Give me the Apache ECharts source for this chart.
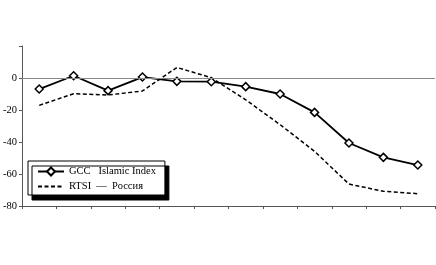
<!DOCTYPE html>
<html>
<head>
<meta charset="utf-8">
<script src="https://cdn.jsdelivr.net/npm/echarts@6/dist/echarts.min.js"></script>
<style>html,body{margin:0;padding:0;background:#fff}#c{width:436px;height:265px}</style>
</head>
<body>
<div id="c"></div>
<script>
const categories = ['1','2','3','4','5','6','7','8','9','10','11','12'];
const gccValues = [-6.9, 1.4, -7.9, 0.6, -2.1, -2.3, -5.4, -10.0, -21.5, -40.6, -49.6, -54.4];
const rtsiValues = [-17.1, -9.8, -10.6, -8.1, 6.6, 0.2, -13.6, -29.2, -45.8, -66.3, -70.8, -72.3];
const yTicks = [-80, -60, -40, -20, 0, 20];
const seriesNames = ['GCC   Islamic Index', 'RTSI  —  Россия'];

const chart = echarts.init(document.getElementById('c'), null, {renderer: 'canvas'});
const font = 'Liberation Serif';
chart.setOption({
  animation: false,
  backgroundColor: '#fff',
  textStyle: {fontFamily: font},
  grid: {left: 22, right: 1, top: 46, bottom: 59, containLabel: false},
  legend: {
    orient: 'vertical',
    left: 28, top: 161,
    padding: [5, 9, 3, 9],
    itemGap: 4,
    itemWidth: 26,
    itemHeight: 10,
    backgroundColor: '#fff',
    borderColor: '#000',
    borderWidth: 1,
    shadowColor: '#000',
    shadowBlur: 0,
    shadowOffsetX: 4,
    shadowOffsetY: 5,
    textStyle: {fontFamily: font, fontSize: 10.5, color: '#000'},
    data: [
      {name: seriesNames[0]},
      {name: seriesNames[1], itemStyle: {opacity: 0}}
    ]
  },
  xAxis: {
    type: 'category',
    data: categories,
    boundaryGap: true,
    axisLine: {show: true, onZero: false, lineStyle: {color: '#555', width: 1}},
    axisTick: {show: true, length: 3, inside: false, lineStyle: {color: '#555'}},
    axisLabel: {show: false},
    splitLine: {show: false}
  },
  yAxis: {
    type: 'value',
    min: yTicks[0], max: yTicks[yTicks.length - 1], interval: 20,
    axisLine: {show: true, lineStyle: {color: '#555', width: 1}},
    axisTick: {show: true, length: 3, lineStyle: {color: '#555'}},
    axisLabel: {
      fontFamily: font, fontSize: 10.5, color: '#000', margin: 5,
      formatter: v => (v === 20 ? '' : String(v))
    },
    splitLine: {show: false}
  },
  series: [
    {
      name: seriesNames[0],
      type: 'line',
      data: gccValues,
      symbol: 'diamond',
      symbolSize: 8,
      itemStyle: {color: '#fff', borderColor: '#000', borderWidth: 1.5},
      lineStyle: {color: '#000', width: 1.8, type: 'solid'},
      z: 3,
      markLine: {
        silent: true,
        symbol: 'none',
        label: {show: false},
        lineStyle: {color: '#888', width: 1.2, type: 'solid'},
        data: [{yAxis: 0}]
      }
    },
    {
      name: seriesNames[1],
      type: 'line',
      data: rtsiValues,
      symbol: 'none',
      lineStyle: {color: '#000', width: 1.5, type: [4, 2.5]},
      itemStyle: {color: '#000'},
      z: 2
    }
  ]
});
</script>
</body>
</html>
